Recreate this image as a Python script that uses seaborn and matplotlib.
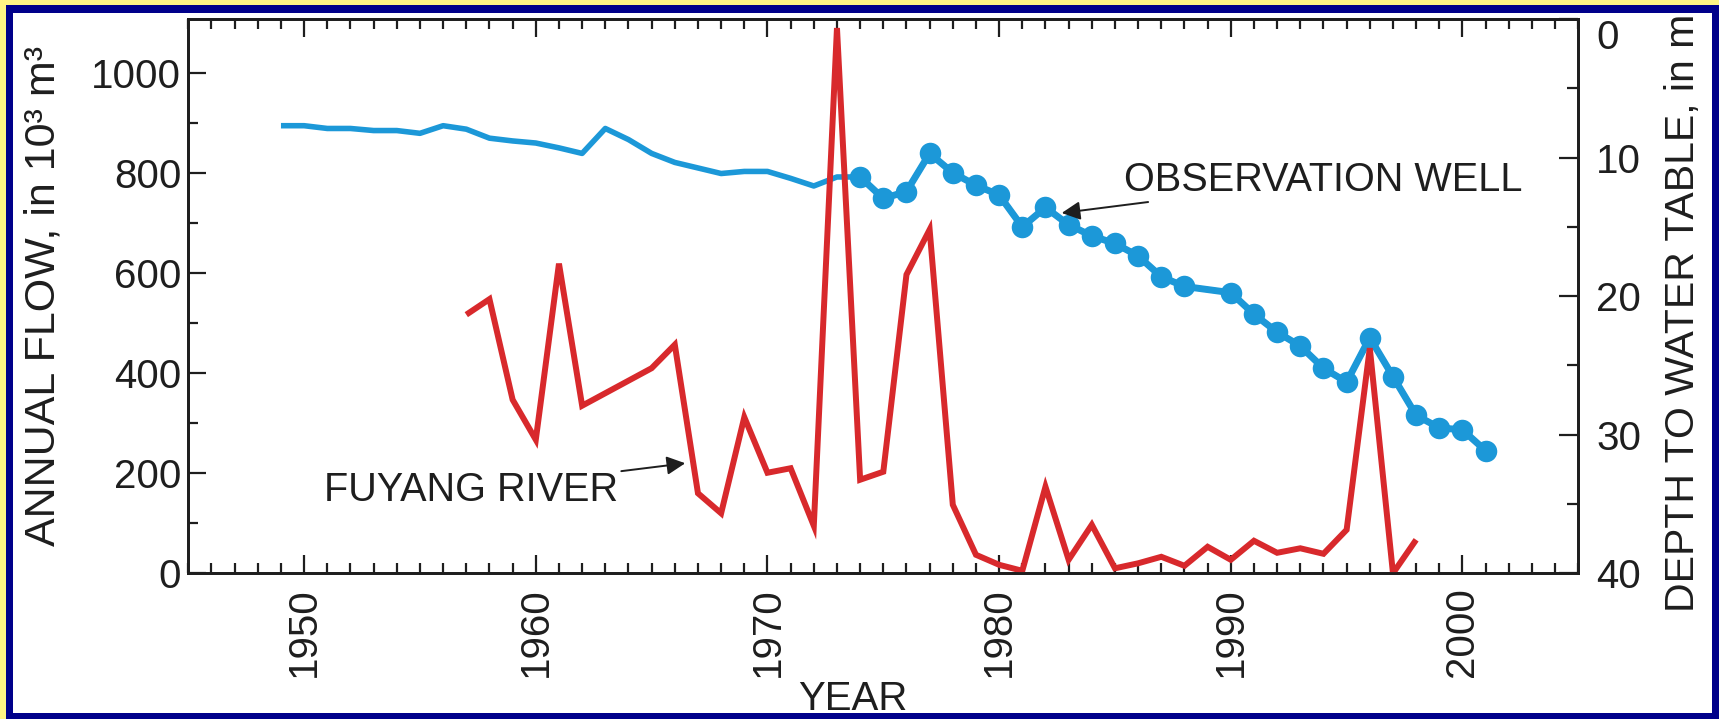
import matplotlib
matplotlib.use('Agg')
import matplotlib.pyplot as plt
from matplotlib.patches import Rectangle
from matplotlib.ticker import MultipleLocator, FixedLocator
import pandas as pd
import seaborn as sns

# Fuyang River annual flow, 10^3 m^3
flow_years = [1957, 1958, 1959, 1960, 1961, 1962, 1965, 1966, 1967, 1968,
              1969, 1970, 1971, 1972, 1973, 1974, 1975, 1976, 1977, 1978,
              1979, 1980, 1981, 1982, 1983, 1984, 1985, 1986, 1987, 1988,
              1989, 1990, 1991, 1992, 1993, 1994, 1995, 1996, 1997, 1998]
flow_vals = [517, 548, 347, 267, 619, 335, 410, 457, 160, 120,
             312, 201, 210, 95, 1090, 187, 203, 597, 687, 137,
             37, 17, 5, 173, 27, 97, 10, 20, 33, 15,
             53, 27, 65, 41, 50, 39, 87, 450, 0, 67]

# observation well, depth to water table in m
well_years = [1949, 1950, 1951, 1952, 1953, 1954, 1955, 1956, 1957, 1958,
              1959, 1960, 1961, 1962, 1963, 1964, 1965, 1966, 1968, 1969,
              1970, 1971, 1972, 1973, 1974, 1975, 1976, 1977, 1978, 1979,
              1980, 1981, 1982, 1983, 1984, 1985, 1986, 1987, 1988, 1990,
              1991, 1992, 1993, 1994, 1995, 1996, 1997, 1998, 1999, 2000, 2001]
well_depth = [7.7, 7.7, 7.9, 7.9, 8.05, 8.05, 8.25, 7.7, 7.95, 8.6,
              8.8, 8.95, 9.3, 9.7, 7.9, 8.7, 9.7, 10.35, 11.15, 11.0,
              11.0, 11.5, 12.05, 11.4, 11.4, 12.95, 12.45, 9.7, 11.1, 12.0,
              12.7, 15.0, 13.6, 14.85, 15.65, 16.2, 17.1, 18.6, 19.3, 19.75,
              21.3, 22.6, 23.6, 25.2, 26.2, 23.0, 25.8, 28.6, 29.5, 29.65, 31.15]
first_marked_year = 1974

flow = pd.DataFrame({'year': flow_years, 'flow': flow_vals})
well = pd.DataFrame({'year': well_years, 'depth': well_depth})
well_marked = well[well['year'] >= first_marked_year]

sns.set_theme(style='ticks')
plt.rcParams['font.family'] = ['Liberation Sans', 'DejaVu Sans']
plt.rcParams['text.color'] = '#1e1e1e'

RED = '#d8292c'
BLUE = '#1c98d8'
INK = '#1e1e1e'
W, H = 1719, 719

fig = plt.figure(figsize=(W / 100, H / 100), dpi=100, facecolor='white')
ax = fig.add_axes([188.3 / W, 1 - 573.3 / H, 1390 / W, 554.3 / H])
ax2 = ax.twinx()

# well on the right axis (drawn underneath)
sns.lineplot(data=well, x='year', y='depth', ax=ax2, color=BLUE, lw=4.0,
             solid_joinstyle='round', solid_capstyle='butt')
sns.lineplot(data=well_marked, x='year', y='depth', ax=ax2, color=BLUE, lw=5.0,
             marker='o', markersize=15.5, markeredgewidth=0,
             solid_joinstyle='round')

# river on the left axis (on top)
sns.lineplot(data=flow, x='year', y='flow', ax=ax, color=RED, lw=4.3,
             solid_joinstyle='miter', solid_capstyle='butt')
ax.set_zorder(ax2.get_zorder() + 1)
ax.patch.set_visible(False)

ax.set_xlim(1945, 2005)
ax.set_ylim(0, 1108)
ax2.set_ylim(40, 0)

ax.xaxis.set_major_locator(MultipleLocator(10))
ax.xaxis.set_minor_locator(MultipleLocator(1))
ax.yaxis.set_major_locator(MultipleLocator(200))
ax.yaxis.set_minor_locator(FixedLocator([100, 300, 500, 700, 900]))
ax2.yaxis.set_major_locator(FixedLocator([0, 10, 20, 30, 40]))
ax2.yaxis.set_minor_locator(FixedLocator([5, 15, 25, 35]))

for a in (ax, ax2):
    for s in a.spines.values():
        s.set_visible(True)
        s.set_linewidth(2)
        s.set_color(INK)

ax.tick_params(axis='x', which='both', direction='in', top=True, bottom=True,
               width=1.6, color=INK, labelsize=29, labelrotation=90, pad=10,
               labelcolor=INK)
ax.tick_params(axis='x', which='major', length=13)
ax.tick_params(axis='x', which='minor', length=7.5)
ax.tick_params(axis='y', which='both', direction='in', left=True, right=False,
               width=1.6, color=INK, labelsize=29, pad=5, labelcolor=INK)
ax.tick_params(axis='y', which='major', length=13)
ax.tick_params(axis='y', which='minor', length=7.5)
ax2.tick_params(axis='y', which='both', direction='in', left=False, right=True,
                width=1.6, color=INK, labelsize=29, pad=13, labelcolor=INK)
ax2.tick_params(axis='y', which='major', length=14)
ax2.tick_params(axis='y', which='minor', length=8)
# the "0" at the top sits just below the frame line
ax2.yaxis.get_major_ticks()[0].label2.set_verticalalignment('top')

ax.set_xlabel('YEAR', fontsize=29, color=INK, va='baseline')
ax.xaxis.set_label_coords(0.478, -0.247)
ax.set_ylabel('ANNUAL FLOW, in 10\u00b3 m\u00b3', fontsize=31, color=INK)
ax.yaxis.set_label_coords(-0.09, 0.5)
ax2.set_ylabel('DEPTH TO WATER TABLE, in m', fontsize=29.5, color=INK,
               rotation=90)
ax2.yaxis.set_label_coords(1.062, 0.47)

arrow = dict(arrowstyle='-|>', color=INK, lw=1.4, mutation_scale=28,
             shrinkA=0, shrinkB=0)
ax2.annotate('OBSERVATION WELL', xy=(1982.7, 14.0), xytext=(1985.4, 11.6),
             fontsize=28.5, color=INK, ha='left', va='center', arrowprops=arrow)
ax.annotate('FUYANG RIVER', xy=(1966.45, 220), xytext=(1963.55, 167),
            fontsize=28.5, color=INK, ha='right', va='center', arrowprops=arrow)

# slide frame: yellow outer edge, navy band
def frame(x0, y0, x1, y1, color, z):
    fig.add_artist(Rectangle((x0 / W, 1 - y1 / H), (x1 - x0) / W, (y1 - y0) / H,
                             transform=fig.transFigure, facecolor=color,
                             edgecolor='none', zorder=z))

NAVY = '#00008a'
YELLOW = '#fff585'
frame(0, 0, W, 5, YELLOW, 10)
frame(0, 0, 6, H, YELLOW, 10)
frame(6, 5, W, 13, NAVY, 10)
frame(6, 5, 13, H, NAVY, 10)
frame(1712, 5, W, H, NAVY, 10)
frame(6, 713, W, H, NAVY, 10)

fig.savefig('out.png', dpi=100, facecolor='white')
